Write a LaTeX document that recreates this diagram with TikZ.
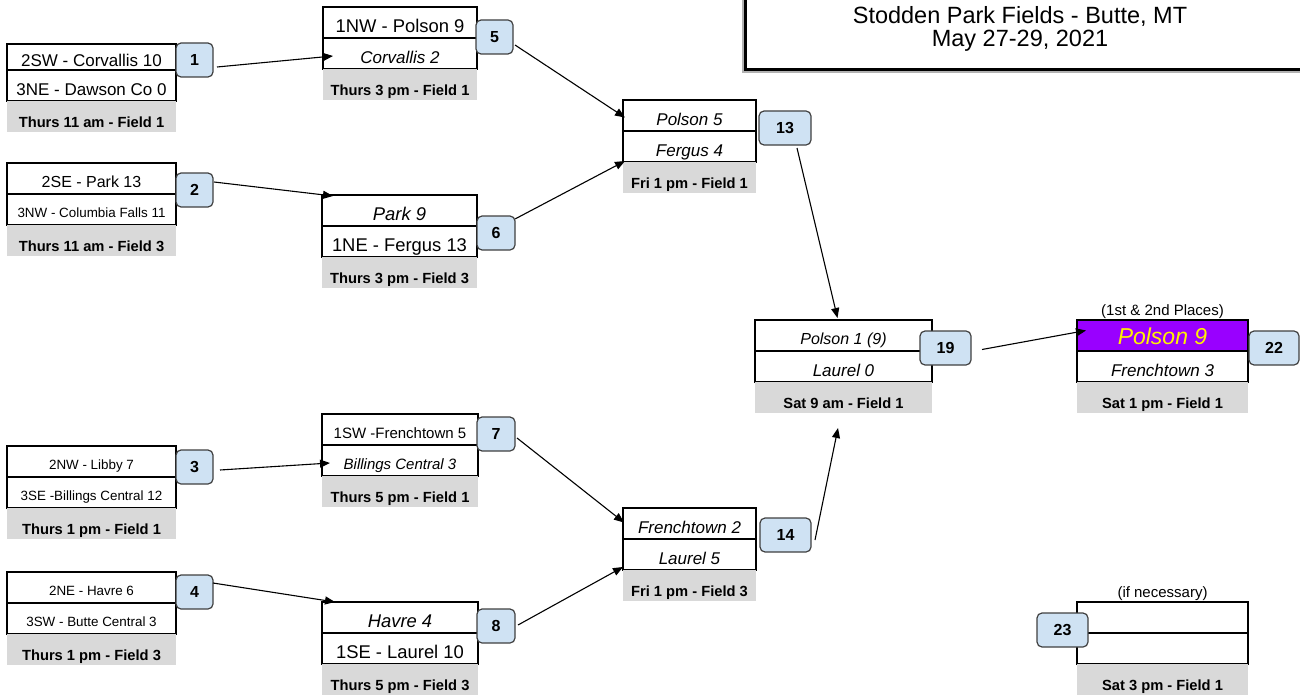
\documentclass[tikz,border=0pt]{standalone}
\usepackage{fontspec}
\setmainfont{Liberation Sans}
\usepackage{xcolor}
\usepackage{tikz}
\usetikzlibrary{arrows.meta,positioning,calc}

\definecolor{badgeblue}{HTML}{CFE2F3}
\definecolor{slotgray}{HTML}{D9D9D9}
\definecolor{champ}{HTML}{9900FF}

\begin{document}
\begin{tikzpicture}[x=1pt, y=-1pt,
    team/.style={draw, line width=2pt, inner sep=0pt, outer sep=0pt, anchor=north west,
      minimum height=31pt, text depth=0pt, text height=19.2pt,
      font=\fontsize{17}{17}\selectfont},
    big/.style={text height=20.2pt, font=\fontsize{18.4}{18.4}\selectfont},
    medium/.style={text height=18.5pt, font=\fontsize{16}{16}\selectfont},
    mid/.style={text height=17.7pt, font=\fontsize{15}{15}\selectfont},
    small/.style={text height=16.6pt, font=\fontsize{13.4}{13.4}\selectfont},
    slot/.style={fill=slotgray, inner sep=0pt, outer sep=0pt, anchor=north west,
      minimum height=31pt, text depth=0pt, text height=22.6pt,
      font=\bfseries\fontsize{14.7}{14.7}\selectfont},
    badge/.style={draw=black!75, line width=1.2pt, fill=badgeblue, rounded corners=5pt,
      inner sep=0pt, outer sep=0pt, anchor=north west, minimum height=34pt,
      minimum width=37pt, text height=11.5pt, text depth=0pt,
      font=\bfseries\fontsize{16}{16}\selectfont},
    note/.style={inner sep=0pt, font=\fontsize{15}{15}\selectfont},
    venue/.style={anchor=base, inner sep=0pt, font=\fontsize{23.5}{23.5}\selectfont},
    win/.style={-{Triangle[length=10pt,width=8pt]}, line width=1.1pt}]

    \useasboundingbox (0,0) rectangle (1300,698);

    % Title box (runs off the page)
    \begin{scope}
        \clip (0,0) rectangle (1300,698);
        \draw[gray!60, line width=3pt] (743.5,-10) rectangle (1340,71.5);
        \draw[line width=3pt] (745.5,-10) rectangle (1340,69.5);
    \end{scope}
    \node[venue] (venue) at (1020,24) {Stodden Park Fields - Butte, MT};
    \node[venue] (dates) at (1020,47) {May 27-29, 2021};

    % First round
    \node[team, minimum width=169, minimum height=26] (g1a) at (7,44) {2SW - Corvallis 10};
    \node[team, minimum width=169] (g1b) at (g1a.south west) {3NE - Dawson Co 0};
    \node[slot, minimum width=169] (g1c) at (g1b.south west) {Thurs 11 am - Field 1};

    \node[team, medium, minimum width=169] (g2a) at (7,163) {2SE - Park 13};
    \node[team, small, minimum width=169] (g2b) at (g2a.south west) {3NW - Columbia Falls 11};
    \node[slot, minimum width=169] (g2c) at (g2b.south west) {Thurs 11 am - Field 3};

    \node[team, small, minimum width=169] (g3a) at (7,446) {2NW - Libby 7};
    \node[team, small, minimum width=169] (g3b) at (g3a.south west) {3SE -Billings Central 12};
    \node[slot, minimum width=169] (g3c) at (g3b.south west) {Thurs 1 pm - Field 1};

    \node[team, small, minimum width=169] (g4a) at (7,572) {2NE - Havre 6};
    \node[team, small, minimum width=169] (g4b) at (g4a.south west) {3SW - Butte Central 3};
    \node[slot, minimum width=169] (g4c) at (g4b.south west) {Thurs 1 pm - Field 3};

    % Second round
    \node[team, big, minimum width=154] (g5a) at (323,7) {1NW - Polson 9};
    \node[team, minimum width=154] (g5b) at (g5a.south west) {\textit{Corvallis 2}};
    \node[slot, minimum width=154] (g5c) at (g5b.south west) {Thurs 3 pm - Field 1};

    \node[team, big, minimum width=155] (g6a) at (322,195) {\textit{Park 9}};
    \node[team, big, minimum width=155] (g6b) at (g6a.south west) {1NE - Fergus 13};
    \node[slot, minimum width=155] (g6c) at (g6b.south west) {Thurs 3 pm - Field 3};

    \node[team, mid, minimum width=156] (g7a) at (322,414) {1SW -Frenchtown 5};
    \node[team, mid, minimum width=156] (g7b) at (g7a.south west) {\textit{Billings Central 3}};
    \node[slot, minimum width=156] (g7c) at (g7b.south west) {Thurs 5 pm - Field 1};

    \node[team, big, minimum width=156] (g8a) at (322,602) {\textit{Havre 4}};
    \node[team, big, minimum width=156] (g8b) at (g8a.south west) {1SE - Laurel 10};
    \node[slot, minimum width=156] (g8c) at (g8b.south west) {Thurs 5 pm - Field 3};

    % Friday
    \node[team, minimum width=133] (g13a) at (623,100) {\textit{Polson 5}};
    \node[team, minimum width=133] (g13b) at (g13a.south west) {\textit{Fergus 4}};
    \node[slot, minimum width=133] (g13c) at (g13b.south west) {Fri 1 pm - Field 1};

    \node[team, minimum width=133] (g14a) at (623,508) {\textit{Frenchtown 2}};
    \node[team, minimum width=133] (g14b) at (g14a.south west) {\textit{Laurel 5}};
    \node[slot, minimum width=133] (g14c) at (g14b.south west) {Fri 1 pm - Field 3};

    % Saturday
    \node[team, medium, minimum width=177] (g19a) at (755,320) {\textit{Polson 1 (9)}};
    \node[team, minimum width=177] (g19b) at (g19a.south west) {\textit{Laurel 0}};
    \node[slot, minimum width=177] (g19c) at (g19b.south west) {Sat 9 am - Field 1};

    \node[team, minimum width=171, fill=champ, text=yellow, text height=18.5pt,
          font=\fontsize{23}{23}\selectfont\itshape] (g22a) at (1077,320) {Polson 9};
    \node[team, minimum width=171] (g22b) at (g22a.south west) {\textit{Frenchtown 3}};
    \node[slot, minimum width=171] (g22c) at (g22b.south west) {Sat 1 pm - Field 1};
    \node[note, above=1pt of g22a] (final) {(1st \& 2nd Places)};

    \node[team, minimum width=171] (g23a) at (1077,602) {};
    \node[team, minimum width=171] (g23b) at (g23a.south west) {};
    \node[slot, minimum width=171] (g23c) at (g23b.south west) {Sat 3 pm - Field 1};
    \node[note, above=1pt of g23a] (extra) {(if necessary)};

    % Game numbers
    \node[badge] (b1) at (176,43) {1};
    \node[badge] (b2) at (176,173) {2};
    \node[badge] (b3) at (176,450) {3};
    \node[badge] (b4) at (176,575) {4};
    \node[badge] (b5) at (476,20) {5};
    \node[badge, minimum width=38] (b6) at (477,216) {6};
    \node[badge, minimum width=38] (b7) at (477,417) {7};
    \node[badge, minimum width=38] (b8) at (477,609) {8};
    \node[badge, minimum width=52] (b13) at (759,111) {13};
    \node[badge, minimum width=51] (b14) at (760,518) {14};
    \node[badge, minimum width=51] (b19) at (920,331) {19};
    \node[badge, minimum width=50] (b22) at (1249,331) {22};
    \node[badge, minimum width=51] (b23) at (1037,613) {23};

    % Winners move on
    \draw[win] ($(b1.east)+(4,7)$) -- ($(g5b.west)+(10,2.5)$);
    \draw[win] ($(b2.east)+(1,-8)$) -- ($(g6a.north west)+(11,1)$);
    \draw[win] ($(b3.east)+(7,3)$) -- ($(g7b.west)+(8,2.5)$);
    \draw[win] ($(b4.north east)+(0,8)$) -- ($(g8a.north west)+(13,0)$);
    \draw[win] ($(b5.east)+(2,8)$) -- ($(g13a.west)+(2,2)$);
    \draw[win] ($(b6.north east)+(0,3)$) -- ($(g13b.south west)+(2,-1)$);
    \draw[win] ($(b7.east)+(2,4)$) -- ($(g14a.west)+(1,-1)$);
    \draw[win] ($(b8.east)+(3,-1)$) -- ($(g14b.south west)+(0,-3)$);
    \draw[win] ($(b13.south)+(12,3)$) -- ($(g19a.north)+(-6,-2)$);
    \draw[win] ($(b14.east)+(4,5)$) -- ($(g19c.south)+(-5.5,15)$);
    \draw[win] ($(b19.east)+(11,1.5)$) -- ($(g22a.west)+(9,-5)$);
\end{tikzpicture}
\end{document}
